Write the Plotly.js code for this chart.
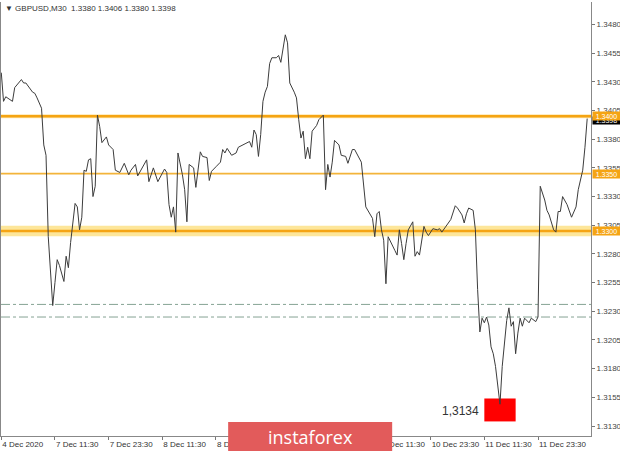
<!DOCTYPE html>
<html>
<head>
<meta charset="utf-8">
<script src="https://cdn.plot.ly/plotly-3.0.1.min.js"></script>
<style>html,body{margin:0;padding:0;background:#fff;}#chart{width:620px;height:451px;}</style>
</head>
<body>
<div id="chart"></div>
<script>
// M30 bar index (0 = first bar on chart) and close price
const bars = [0,1,2,5,6,9,10,11,14,15,16,18,19,20,21,22,23,24,25,26,28,29,30,31,32,33,34,35,36,37,38,39,40,41,42,43,44,45,47,48,50,51,53,55,57,58,60,61,65,66,68,70,73,74,75,76,77,78,79,81,82,83,84,86,87,89,90,92,93,94,96,98,99,100,101,103,105,106,109,111,112,113,114,115,116,117,118,119,120,121,123,124,125,126,127,128,129,131,132,133,134,135,136,137,138,139,141,142,144,145,146,147,148,149,151,152,154,155,157,158,160,161,163,165,166,167,168,169,170,171,172,173,175,176,177,178,179,180,181,182,184,185,186,187,189,190,191,193,195,196,197,199,201,203,204,206,207,208,209,211,212,213,214,215,216,217,218,219,220,221,222,223,224,225,226,227,228,229,230,231,232,233,234,236,237,239,240,241,242,243,244,245,247,248,249,250,251,252,253,255,257,258,260,261,262];
const closes = [1.3438,1.3413,1.3417,1.3413,1.3425,1.3432,1.3429,1.3429,1.3421,1.3420,1.3416,1.3407,1.3375,1.3366,1.3295,1.3260,1.3235,1.3255,1.3275,1.3270,1.3256,1.3278,1.3268,1.3290,1.3308,1.3324,1.3321,1.3301,1.3312,1.3353,1.3352,1.3362,1.3363,1.3330,1.3339,1.3401,1.3391,1.3377,1.3382,1.3375,1.3371,1.3353,1.3351,1.3359,1.3349,1.3353,1.3358,1.3348,1.3362,1.3343,1.3355,1.3343,1.3354,1.3351,1.3323,1.3312,1.3321,1.3299,1.3368,1.3349,1.3336,1.3308,1.3358,1.3355,1.3338,1.3369,1.3365,1.3364,1.3344,1.3352,1.3356,1.3360,1.3371,1.3368,1.3372,1.3366,1.3368,1.3373,1.3376,1.3378,1.3373,1.3388,1.3384,1.3365,1.3384,1.3413,1.3421,1.3426,1.3446,1.3451,1.3451,1.3453,1.3447,1.3458,1.3471,1.3464,1.3429,1.3421,1.3416,1.3397,1.3381,1.3387,1.3363,1.3373,1.3363,1.3387,1.3392,1.3397,1.3401,1.3336,1.3358,1.3347,1.3360,1.3379,1.3375,1.3366,1.3365,1.3359,1.3371,1.3371,1.3363,1.3360,1.3321,1.3315,1.3311,1.3295,1.3315,1.3317,1.3301,1.3292,1.3254,1.3295,1.3286,1.3283,1.3279,1.3301,1.3289,1.3275,1.3289,1.3301,1.3308,1.3278,1.3282,1.3279,1.3304,1.3299,1.3296,1.3302,1.3301,1.3302,1.3299,1.3305,1.3310,1.3322,1.3320,1.3314,1.3307,1.3315,1.3320,1.3318,1.3301,1.3249,1.3212,1.3224,1.3220,1.3225,1.3218,1.3199,1.3193,1.3182,1.3166,1.3149,1.3182,1.3206,1.3222,1.3233,1.3217,1.3221,1.3193,1.3211,1.3224,1.3217,1.3224,1.3220,1.3224,1.3221,1.3225,1.3339,1.3333,1.3327,1.3318,1.3314,1.3301,1.3299,1.3317,1.3317,1.3330,1.3326,1.3323,1.3312,1.3321,1.3336,1.3353,1.3373,1.3398];

const tickBars = [0,24,48,72,96,120,144,168,192,216,240];
const tickLabels = ["4 Dec 2020","7 Dec 11:30","7 Dec 23:30","8 Dec 11:30","8 Dec 23:30","9 Dec 11:30","9 Dec 23:30","10 Dec 11:30","10 Dec 23:30","11 Dec 11:30","11 Dec 23:30"];
const priceTicks = [1.3130,1.3155,1.3180,1.3205,1.3230,1.3255,1.3280,1.3305,1.3330,1.3355,1.3380,1.3405,1.3430,1.3455,1.3480];

const levels = [1.3400, 1.3350, 1.3300];
const levelLabels = ["1.3400", "1.3350", "1.3300"];
const dashLevels = [1.3236, 1.3225];
const lastPrice = 1.3398;
const lowValue = 1.3134;
const lowText = "1,3134";
const lowBar = 223;
const titleText = "\u25BC GBPUSD,M30  1.3380 1.3406 1.3380 1.3398";

const orange = "#f5a413";
const shapes = [];
// highlight band around lower level
shapes.push({type:"rect", xref:"paper", x0:0, x1:1, yref:"y", y0:levels[2]-0.00045, y1:levels[2]+0.00045, fillcolor:"rgba(252,222,120,0.75)", line:{width:0}, layer:"below"});
// soft halo around top level
shapes.push({type:"rect", xref:"paper", x0:0, x1:1, yref:"y", y0:levels[0]-0.00018, y1:levels[0]+0.00018, fillcolor:"rgba(252,215,120,0.6)", line:{width:0}, layer:"below"});
shapes.push({type:"line", xref:"paper", x0:0, x1:1, yref:"y", y0:levels[0], y1:levels[0], line:{color:orange, width:2.6}, layer:"below"});
shapes.push({type:"line", xref:"paper", x0:0, x1:1, yref:"y", y0:levels[1], y1:levels[1], line:{color:"#f3b43a", width:1.6}, layer:"below"});
shapes.push({type:"line", xref:"paper", x0:0, x1:1, yref:"y", y0:levels[2], y1:levels[2], line:{color:orange, width:2.6}, layer:"below"});
dashLevels.forEach(v => shapes.push({type:"line", xref:"paper", x0:0, x1:1, yref:"y", y0:v, y1:v, line:{color:"#86a394", width:1, dash:"dashdot"}, layer:"below"}));
// red marker box at the low
shapes.push({type:"rect", xref:"x", x0:lowBar-7, x1:lowBar+7, yref:"y", y0:lowValue, y1:lowValue+0.0020, fillcolor:"#ff0000", line:{width:0}, layer:"below"});
// logo box
shapes.push({type:"rect", xref:"paper", x0:0.385, x1:0.663, yref:"paper", y0:-0.036, y1:0.032, fillcolor:"#e25b5b", line:{width:0}, layer:"above"});

const annotations = [];
annotations.push({xref:"paper", x:1, xanchor:"left", xshift:1, yref:"y", y:lastPrice, yshift:-2, text:"1.3398", showarrow:false, bgcolor:"#000", font:{family:"Liberation Sans, Arial", size:7, color:"#fff"}, borderpad:0, width:27, height:7});
levels.forEach((v,i) => annotations.push({xref:"paper", x:1, xanchor:"left", xshift:1, yref:"y", y:v, text:levelLabels[i], showarrow:false, bgcolor:orange, font:{family:"Liberation Sans, Arial", size:7, color:"#fff"}, borderpad:0, width:27, height:8}));
annotations.push({xref:"x", x:lowBar-7, xanchor:"right", xshift:-3, yref:"y", y:lowValue+0.0009, yanchor:"middle", text:lowText, showarrow:false, font:{family:"Liberation Sans, Arial", size:12, color:"#333"}});
annotations.push({xref:"paper", x:0.524, xanchor:"center", yref:"paper", y:-0.002, yanchor:"middle", text:"instaforex", showarrow:false, font:{family:"Open Sans", size:18, color:"#fff"}});

const trace = {x:bars, y:closes, type:"scatter", mode:"lines", line:{color:"#3c3c3c", width:1}, hoverinfo:"skip"};

const layout = {
  width:620, height:451,
  margin:{l:1, r:29, t:2, b:15, pad:0},
  paper_bgcolor:"#fff", plot_bgcolor:"#fff",
  showlegend:false,
  title:{text:titleText, x:0.008, xanchor:"left", xref:"container", y:0.982, yanchor:"middle", yref:"container", font:{family:"Liberation Sans, Arial", size:8, color:"#333"}},
  xaxis:{range:[-0.13,263.7], tickmode:"array", tickvals:tickBars, ticktext:tickLabels, ticks:"outside", ticklen:3, tickcolor:"#777",
    ticklabelposition:"outside right", tickangle:0, ticklabelstandoff:0, showgrid:false, zeroline:false, showline:true, linecolor:"#888", linewidth:1,
    tickfont:{family:"Liberation Sans, Arial", size:8, color:"#333"}, fixedrange:true, automargin:false},
  yaxis:{range:[1.31213,1.34996], side:"right", tickmode:"array", tickvals:priceTicks, ticktext:priceTicks.map(v=>v.toFixed(4)),
    ticks:"outside", ticklen:3, tickcolor:"#777", showgrid:false, zeroline:false, showline:true, mirror:true, linecolor:"#888", linewidth:1,
    tickfont:{family:"Liberation Sans, Arial", size:8, color:"#444"}, fixedrange:true, automargin:false},
  shapes:shapes, annotations:annotations
};
Plotly.newPlot("chart", [trace], layout, {displayModeBar:false, staticPlot:true});
</script>
</body>
</html>
